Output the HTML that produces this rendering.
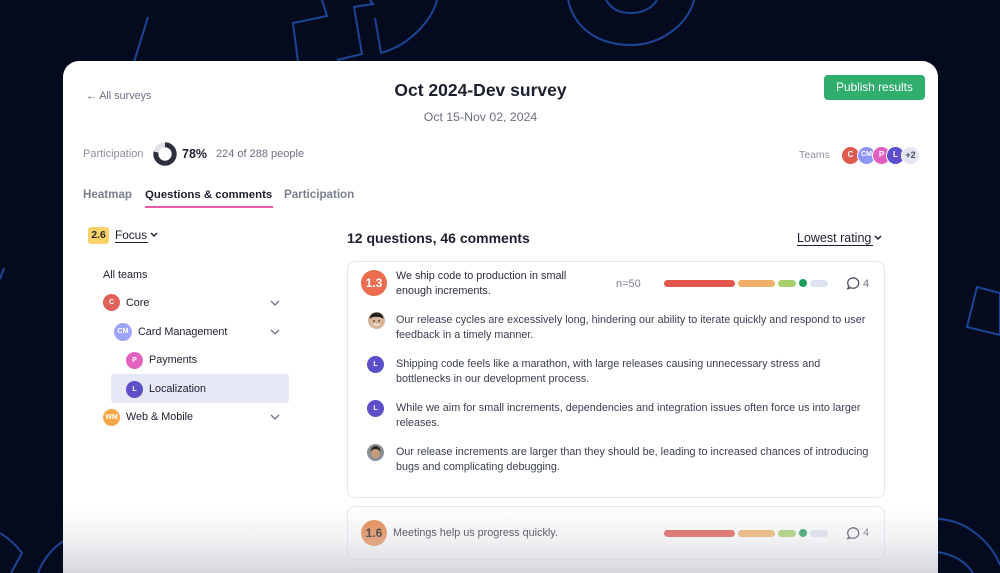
<!DOCTYPE html>
<html><head><meta charset="utf-8">
<style>
*{margin:0;padding:0;box-sizing:border-box}
html,body{width:1000px;height:573px;overflow:hidden;background:#050b1f;font-family:"Liberation Sans",Arial,sans-serif}
.a{position:absolute;white-space:nowrap;line-height:16px}
.card{position:absolute;left:63px;top:61px;width:875px;height:512px;background:#fff;border-radius:16px 16px 0 0;overflow:hidden}
.av{position:absolute;border-radius:50%;color:#fff;font-weight:bold;text-align:center;font-size:7px}
.qc{position:absolute;left:284px;width:538px;border:1px solid #e3e7f1;border-radius:8px;background:#fff}
.bar{position:absolute;height:7px;border-radius:4px}
.ct{color:#3a3f50;font-size:10.8px}
</style></head><body>
<svg width="1000" height="573" style="position:absolute;left:0;top:0">
<g fill="none" stroke="#1b4596" stroke-width="2">
<line x1="148" y1="17" x2="134" y2="62"/>
<polyline points="298,62 293,23 327,16 322,0"/>
<polyline points="337,60 362,54 354,7 373,4 370,0"/>
<path d="M375,18 L381,53 C410,45 432,20 437,0"/>
<path d="M568,0 C575,30 600,45 631,45 C660,45 688,25 694,0"/>
<path d="M606,0 C612,10 620,13 631,13 C643,13 652,8 657,0"/>
<polygon points="977,287 967,327 1000,335 1000,293"/>
<path d="M938,519 C965,520 990,540 1000,565"/>
<path d="M938,552 C955,555 966,562 973,573"/>
<path d="M0,533 C8,538 16,545 22,553 L11,573"/>
<path d="M65,540 C52,548 43,560 38,573"/>
<path d="M0,279 L4,268"/>
</g></svg>

<div class="card">
  <div class="a" style="left:23px;top:27px;font-size:10.8px;color:#6b7080">← All surveys</div>
  <div class="a" style="left:0;width:835px;text-align:center;top:19px;font-size:17.5px;line-height:20px;font-weight:bold;color:#1c1f2e">Oct 2024-Dev survey</div>
  <div class="a" style="left:0;width:835px;text-align:center;top:48px;font-size:12.3px;color:#6b7080">Oct 15-Nov 02, 2024</div>
  <div style="position:absolute;left:761px;top:14px;width:101px;height:25px;background:#2fae6e;border-radius:4px;color:#fff;font-size:11.8px;line-height:25px;text-align:center">Publish results</div>

  <div class="a" style="left:20px;top:85px;font-size:11px;color:#8a8f9c">Participation</div>
  <svg style="position:absolute;left:90px;top:81px" width="24" height="24" viewBox="0 0 24 24">
    <circle cx="12" cy="12" r="9.2" fill="none" stroke="#dfe1e6" stroke-width="5"/>
    <circle cx="12" cy="12" r="9.2" fill="none" stroke="#2b2f3e" stroke-width="5" stroke-dasharray="45.1 100" transform="rotate(-90 12 12)"/>
  </svg>
  <div class="a" style="left:119px;top:85px;font-size:12.5px;font-weight:bold;color:#1c1f2e">78%</div>
  <div class="a" style="left:153px;top:85px;font-size:11px;color:#6b7080">224 of 288 people</div>

  <div class="a" style="left:736px;top:86px;font-size:10.5px;color:#8a8f9c">Teams</div>
  <div class="av" style="left:778px;top:85px;width:19px;height:19px;line-height:16px;background:#e05a4f;border:1.5px solid #fff;font-size:8px">C</div>
  <div class="av" style="left:794px;top:85px;width:19px;height:19px;line-height:16px;background:#8e95f5;border:1.5px solid #fff">CM</div>
  <div class="av" style="left:809px;top:85px;width:19px;height:19px;line-height:16px;background:#e05fc0;border:1.5px solid #fff;font-size:8px">P</div>
  <div class="av" style="left:823px;top:85px;width:19px;height:19px;line-height:16px;background:#5b4fcf;border:1.5px solid #fff;font-size:8px">L</div>
  <div class="av" style="left:838px;top:85px;width:19px;height:19px;line-height:16px;background:#e4e7f1;border:1.5px solid #fff;color:#4a4f60;font-size:9px">+2</div>

  <div class="a" style="left:20px;top:126px;font-size:11.6px;font-weight:bold;color:#7a7f8e">Heatmap</div>
  <div class="a" style="left:82px;top:126px;font-size:11.4px;font-weight:bold;color:#1c1f2e">Questions &amp; comments</div>
  <div style="position:absolute;left:82px;top:145px;width:128px;height:2px;background:#e85aa6"></div>
  <div class="a" style="left:221px;top:126px;font-size:11.6px;font-weight:bold;color:#7a7f8e">Participation</div>

  <div style="position:absolute;left:25px;top:166px;width:21px;height:17px;background:#fcd36a;border-radius:3px;font-size:10.5px;font-weight:bold;line-height:17px;text-align:center;color:#2a2a2a">2.6</div>
  <div class="a" style="left:52px;top:166px;font-size:11.8px;color:#1c1f2e">Focus</div>
  <div style="position:absolute;left:52px;top:181px;width:33px;height:1px;background:#1c1f2e"></div>
  <svg style="position:absolute;left:87px;top:171px" width="8" height="6"><polyline points="1,1 4,4 7,1" fill="none" stroke="#1c1f2e" stroke-width="1.5"/></svg>

  <div class="a" style="left:40px;top:206px;font-size:10.8px;color:#1c1f2e">All teams</div>

  <div class="av" style="left:40px;top:233px;width:17px;height:17px;line-height:17px;background:#e0625a">C</div>
  <div class="a" style="left:63px;top:234px;font-size:10.8px;color:#1c1f2e">Core</div>
  <svg style="position:absolute;left:207px;top:239px" width="10" height="7"><polyline points="1,1 5,5 9,1" fill="none" stroke="#6b7080" stroke-width="1.3"/></svg>

  <div class="av" style="left:51px;top:262px;width:18px;height:18px;line-height:18px;background:#9fa5f8">CM</div>
  <div class="a" style="left:75px;top:263px;font-size:10.8px;color:#1c1f2e">Card Management</div>
  <svg style="position:absolute;left:207px;top:268px" width="10" height="7"><polyline points="1,1 5,5 9,1" fill="none" stroke="#6b7080" stroke-width="1.3"/></svg>

  <div class="av" style="left:63px;top:291px;width:17px;height:17px;line-height:17px;background:#e362c0">P</div>
  <div class="a" style="left:86px;top:291px;font-size:10.8px;color:#1c1f2e">Payments</div>

  <div style="position:absolute;left:48px;top:313px;width:178px;height:29px;background:#e4e9f5;border-radius:3px"></div>
  <div class="av" style="left:63px;top:320px;width:17px;height:17px;line-height:17px;background:#5b50c8">L</div>
  <div class="a" style="left:86px;top:320px;font-size:10.8px;color:#1c1f2e">Localization</div>

  <div class="av" style="left:40px;top:348px;width:17px;height:17px;line-height:17px;background:#f5a746">WM</div>
  <div class="a" style="left:63px;top:348px;font-size:10.8px;color:#1c1f2e">Web &amp; Mobile</div>
  <svg style="position:absolute;left:207px;top:353px" width="10" height="7"><polyline points="1,1 5,5 9,1" fill="none" stroke="#6b7080" stroke-width="1.3"/></svg>

  <div class="a" style="left:284px;top:168px;font-size:14px;line-height:18px;font-weight:bold;color:#1c1f2e">12 questions, 46 comments</div>
  <div class="a" style="left:734px;top:169px;font-size:12.5px;color:#1c1f2e">Lowest rating</div>
  <div style="position:absolute;left:734px;top:184px;width:76px;height:1px;background:#1c1f2e"></div>
  <svg style="position:absolute;left:811px;top:174px" width="8" height="6"><polyline points="1,1 4,4 7,1" fill="none" stroke="#1c1f2e" stroke-width="1.5"/></svg>

  <div class="qc" style="top:200px;height:237px"></div>
  <div style="position:absolute;left:298px;top:209px;width:26px;height:26px;border-radius:50%;background:#eb6c4e;color:#fff;font-weight:bold;font-size:12px;line-height:26px;text-align:center">1.3</div>
  <div class="a ct" style="left:333px;top:207px;color:#2a2e3d">We ship code to production in small</div>
  <div class="a ct" style="left:333px;top:222px;color:#2a2e3d">enough increments.</div>
  <div class="a" style="left:553px;top:215px;font-size:11px;color:#7a7f8e">n=50</div>
  <div class="bar" style="left:601px;top:219px;width:71px;background:#e2574c"></div>
  <div class="bar" style="left:675px;top:219px;width:37px;background:#f0b068"></div>
  <div class="bar" style="left:715px;top:219px;width:18px;background:#a8cf6b"></div>
  <div class="bar" style="left:736px;top:218px;width:8px;height:8px;background:#1e9e5a"></div>
  <div class="bar" style="left:747px;top:219px;width:18px;background:#dde3f0"></div>
  <svg style="position:absolute;left:783px;top:215px" width="14" height="14" viewBox="0 0 14 14"><path d="M3.2,10.6 A5.5,5.2 0 1 1 5,11.8 L1.5,12.8 Z" fill="none" stroke="#4a4f60" stroke-width="1.3" stroke-linejoin="round"/></svg>
  <div class="a" style="left:800px;top:215px;font-size:11px;color:#6b7080">4</div>

  <svg style="position:absolute;left:305px;top:251px" width="17" height="17" viewBox="0 0 17 17"><circle cx="8.5" cy="8.5" r="8.5" fill="#d9b59a"/><path d="M1.5,7 C2,2 6,0.5 8.5,0.5 C12,0.5 15.5,2.5 15.5,7 C13,5 10,4.5 8.5,5 C6,4.5 3.5,5 1.5,7Z" fill="#222"/><circle cx="6" cy="9" r="0.9" fill="#333"/><circle cx="11" cy="9" r="0.9" fill="#333"/><path d="M5.5,12 Q8.5,14 11.5,12" stroke="#fff" stroke-width="1" fill="none"/></svg>
  <div class="a ct" style="left:333px;top:251px">Our release cycles are excessively long, hindering our ability to iterate quickly and respond to user</div>
  <div class="a ct" style="left:333px;top:266px">feedback in a timely manner.</div>

  <div class="av" style="left:304px;top:295px;width:17px;height:17px;line-height:17px;background:#5b50c8">L</div>
  <div class="a ct" style="left:333px;top:295px">Shipping code feels like a marathon, with large releases causing unnecessary stress and</div>
  <div class="a ct" style="left:333px;top:310px">bottlenecks in our development process.</div>

  <div class="av" style="left:304px;top:339px;width:17px;height:17px;line-height:17px;background:#5b50c8">L</div>
  <div class="a ct" style="left:333px;top:339px">While we aim for small increments, dependencies and integration issues often force us into larger</div>
  <div class="a ct" style="left:333px;top:354px">releases.</div>

  <svg style="position:absolute;left:304px;top:383px" width="17" height="17" viewBox="0 0 17 17"><circle cx="8.5" cy="8.5" r="8.5" fill="#8b8f96"/><ellipse cx="8.5" cy="9.5" rx="4.3" ry="5" fill="#c99a7c"/><path d="M3.5,8 C4,3 7,2 8.5,2 C11,2 13.5,3.5 13.5,8 C12,5.5 10,5 8.5,5.2 C7,5 5,5.5 3.5,8Z" fill="#2a2320"/></svg>
  <div class="a ct" style="left:333px;top:383px">Our release increments are larger than they should be, leading to increased chances of introducing</div>
  <div class="a ct" style="left:333px;top:398px">bugs and complicating debugging.</div>

  <div class="qc" style="top:445px;height:54px"></div>
  <div style="position:absolute;left:298px;top:459px;width:26px;height:26px;border-radius:50%;background:#e8864c;color:#1c1c1c;font-weight:bold;font-size:12px;line-height:26px;text-align:center">1.6</div>
  <div class="a ct" style="left:330px;top:464px;color:#2a2e3d">Meetings help us progress quickly.</div>
  <div class="bar" style="left:601px;top:469px;width:71px;background:#e2574c"></div>
  <div class="bar" style="left:675px;top:469px;width:37px;background:#f0b068"></div>
  <div class="bar" style="left:715px;top:469px;width:18px;background:#a8cf6b"></div>
  <div class="bar" style="left:736px;top:468px;width:8px;height:8px;background:#1e9e5a"></div>
  <div class="bar" style="left:747px;top:469px;width:18px;background:#dde3f0"></div>
  <svg style="position:absolute;left:783px;top:465px" width="14" height="14" viewBox="0 0 14 14"><path d="M3.2,10.6 A5.5,5.2 0 1 1 5,11.8 L1.5,12.8 Z" fill="none" stroke="#4a4f60" stroke-width="1.3" stroke-linejoin="round"/></svg>
  <div class="a" style="left:800px;top:464px;font-size:11px;color:#6b7080">4</div>

  <div style="position:absolute;left:284px;top:508px;width:538px;height:4px;border:1px solid #e3e7f1;border-bottom:none;border-radius:8px 8px 0 0;background:#fff"></div>

  <div style="position:absolute;left:0;top:445px;width:875px;height:67px;background:linear-gradient(to bottom,rgba(255,255,255,0) 0%,rgba(215,216,222,0.35) 50%,rgba(200,201,208,0.75) 100%)"></div>
</div>
</body></html>
